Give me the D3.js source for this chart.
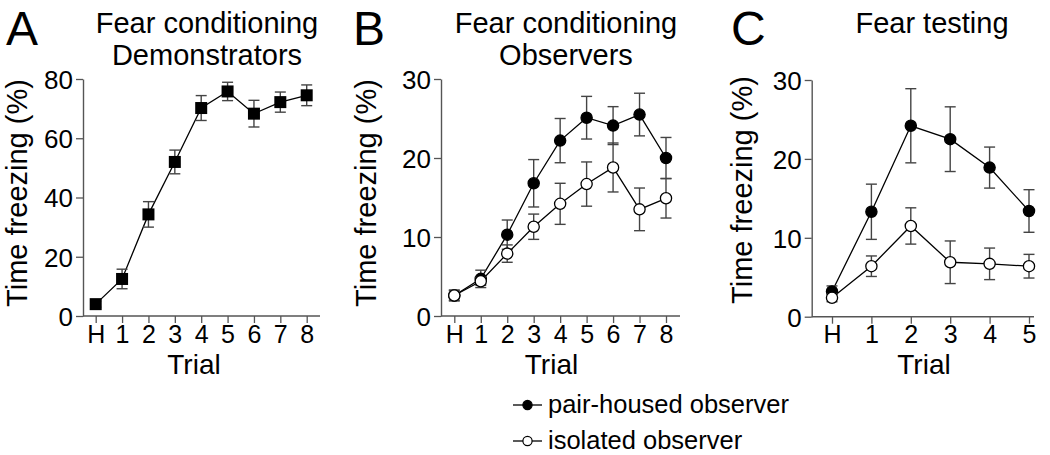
<!DOCTYPE html>
<html><head><meta charset="utf-8">
<script src="https://cdn.jsdelivr.net/npm/d3@7/dist/d3.min.js"></script>
<style>
html,body{margin:0;padding:0;background:#fff;}
svg{display:block;}
text{font-family:"Liberation Sans",Arial,sans-serif;fill:#000;}
</style></head>
<body>
<svg id="chart" width="1050" height="455"></svg>
<script>
// ---------- data ----------
const trialsA = ["H","1","2","3","4","5","6","7","8"];
const demoMean = [4.0, 12.5, 34.3, 52.0, 70.2, 75.8, 68.3, 72.2, 74.5];
const demoSem  = [1.0, 3.3, 4.3, 4.0, 4.2, 3.1, 4.5, 3.4, 3.5];

const trialsB = ["H","1","2","3","4","5","6","7","8"];
const condPairMean = [2.6, 4.7, 10.3, 16.8, 22.2, 25.1, 24.1, 25.5, 20.0];
const condPairSem  = [0.7, 1.1, 1.85, 3.0, 2.8, 2.7, 2.4, 2.7, 2.6];
const condIsoMean  = [2.6, 4.4, 7.9, 11.3, 14.2, 16.7, 18.8, 13.5, 14.9];
const condIsoSem   = [0.6, 0.5, 1.1, 1.6, 2.6, 2.8, 3.1, 2.7, 2.5];

const trialsC = ["H","1","2","3","4","5"];
const testPairMean = [3.2, 13.3, 24.2, 22.5, 18.9, 13.4];
const testPairSem  = [0.7, 3.5, 4.7, 4.1, 2.6, 2.7];
const testIsoMean  = [2.4, 6.4, 11.5, 6.9, 6.7, 6.4];
const testIsoSem   = [0.5, 1.3, 2.3, 2.7, 2.0, 1.5];

const yTicksA = [0, 20, 40, 60, 80];
const yTicksBC = [0, 10, 20, 30];
const panelLetters = ["A", "B", "C"];
const titlesA = ["Fear conditioning", "Demonstrators"];
const titlesB = ["Fear conditioning", "Observers"];
const titlesC = ["Fear testing"];
const yLabel = "Time freezing (%)";
const xLabel = "Trial";
const legendLabels = ["pair-housed observer", "isolated observer"];

// ---------- drawing ----------
const svg = d3.select("#chart");
const AXIS = "#555", ERR = "#444";
const FONT = "Liberation Sans, Arial, sans-serif";

function panel(cfg) {
  const g = svg.append("g");
  const x = d3.scalePoint().domain(cfg.cats).range(cfg.xr);
  const y = d3.scaleLinear().domain(cfg.yd).range(cfg.yr);

  // y axis
  const ya = g.append("g").attr("transform", `translate(${cfg.ax},0)`)
    .call(d3.axisLeft(y).tickValues(cfg.yticks).tickSize(7).tickSizeOuter(0).tickPadding(3));
  ya.select(".domain").attr("stroke", AXIS).attr("stroke-width", 1.4);
  ya.selectAll(".tick line").attr("stroke", AXIS).attr("stroke-width", 1.3);
  ya.selectAll(".tick text").attr("font-size", 26).attr("font-family", FONT).attr("fill", "#000").attr("dy", "0.36em");

  // x axis
  const xa = g.append("g").attr("transform", `translate(0,${cfg.yr[0]})`)
    .call(d3.axisBottom(x).tickSize(7).tickPadding(2));
  xa.select(".domain").remove();
  xa.append("line").attr("x1", cfg.ax).attr("x2", cfg.xend).attr("y1", 0).attr("y2", 0)
    .attr("stroke", AXIS).attr("stroke-width", 1.4);
  xa.selectAll(".tick line").attr("stroke", AXIS).attr("stroke-width", 1.3);
  xa.selectAll(".tick text").attr("font-size", 25).attr("font-family", FONT).attr("fill", "#000");

  // labels
  g.append("text").attr("x", cfg.trialX).attr("y", 374).attr("text-anchor", "middle")
    .attr("font-size", 28).text(xLabel);
  g.append("text").attr("transform", `translate(${cfg.ylabX},${cfg.ylabY}) rotate(-90)`)
    .attr("text-anchor", "middle").attr("font-size", 29).text(yLabel);
  g.append("text").attr("x", cfg.letterX).attr("y", 44.5).attr("font-size", 48).text(cfg.letter);
  cfg.titles.forEach((t, i) => {
    g.append("text").attr("x", cfg.titleX).attr("y", 33 + i * 32).attr("text-anchor", "middle")
      .attr("font-size", 29).text(t);
  });

  // series
  cfg.series.forEach(s => {
    const pts = cfg.cats.map((c, i) => ({c, m: s.mean[i], e: s.sem[i]}));
    const sg = g.append("g");
    sg.append("path").datum(pts)
      .attr("d", d3.line().x(d => x(d.c)).y(d => y(d.m)))
      .attr("fill", "none").attr("stroke", "#000").attr("stroke-width", 1.3);
    const eb = sg.selectAll(".eb").data(pts).enter().append("g");
    eb.append("line").attr("x1", d => x(d.c)).attr("x2", d => x(d.c))
      .attr("y1", d => y(d.m - d.e)).attr("y2", d => y(d.m + d.e))
      .attr("stroke", ERR).attr("stroke-width", 1.4);
    [-1, 1].forEach(sgn => {
      eb.append("line").attr("x1", d => x(d.c) - 5.5).attr("x2", d => x(d.c) + 5.5)
        .attr("y1", d => y(d.m + sgn * d.e)).attr("y2", d => y(d.m + sgn * d.e))
        .attr("stroke", ERR).attr("stroke-width", 1.4);
    });
    if (s.shape === "square") {
      sg.selectAll(".mk").data(pts).enter().append("rect")
        .attr("x", d => x(d.c) - 6).attr("y", d => y(d.m) - 6)
        .attr("width", 12).attr("height", 12).attr("fill", "#000");
    } else {
      sg.selectAll(".mk").data(pts).enter().append("circle")
        .attr("cx", d => x(d.c)).attr("cy", d => y(d.m)).attr("r", 5.6)
        .attr("fill", s.fill).attr("stroke", "#000").attr("stroke-width", 1.3);
    }
  });
}

panel({cats: trialsA, xr: [95.7, 306.7], yd: [0, 80], yr: [316, 79], ax: 83, xend: 320,
  yticks: yTicksA, trialX: 194, ylabX: 27, ylabY: 193, letter: panelLetters[0], letterX: 6,
  titles: titlesA, titleX: 207,
  series: [{mean: demoMean, sem: demoSem, shape: "square"}]});

panel({cats: trialsB, xr: [454.3, 666], yd: [0, 30], yr: [316, 79], ax: 441, xend: 680,
  yticks: yTicksBC, trialX: 551.5, ylabX: 376, ylabY: 193, letter: panelLetters[1], letterX: 353,
  titles: titlesB, titleX: 566,
  series: [{mean: condPairMean, sem: condPairSem, shape: "circle", fill: "#000"},
           {mean: condIsoMean, sem: condIsoSem, shape: "circle", fill: "#fff"}]});

panel({cats: trialsC, xr: [832, 1029], yd: [0, 30], yr: [316.7, 80], ax: 811.7, xend: 1034,
  yticks: yTicksBC, trialX: 924, ylabX: 752, ylabY: 190, letter: panelLetters[2], letterX: 731,
  titles: titlesC, titleX: 932,
  series: [{mean: testPairMean, sem: testPairSem, shape: "circle", fill: "#000"},
           {mean: testIsoMean, sem: testIsoSem, shape: "circle", fill: "#fff"}]});

// legend
const lg = svg.append("g");
const legFills = ["#000", "#fff"];
legendLabels.forEach((t, i) => {
  const yy = 405 + i * 36;
  lg.append("line").attr("x1", 513).attr("x2", 542).attr("y1", yy).attr("y2", yy)
    .attr("stroke", "#000").attr("stroke-width", 1.3);
  lg.append("circle").attr("cx", 527.5).attr("cy", yy).attr("r", 4.6)
    .attr("fill", legFills[i]).attr("stroke", "#000").attr("stroke-width", 1.2);
  lg.append("text").attr("x", 548).attr("y", yy + 7.5).attr("font-size", 25.5).text(t);
});
</script>
</body></html>
